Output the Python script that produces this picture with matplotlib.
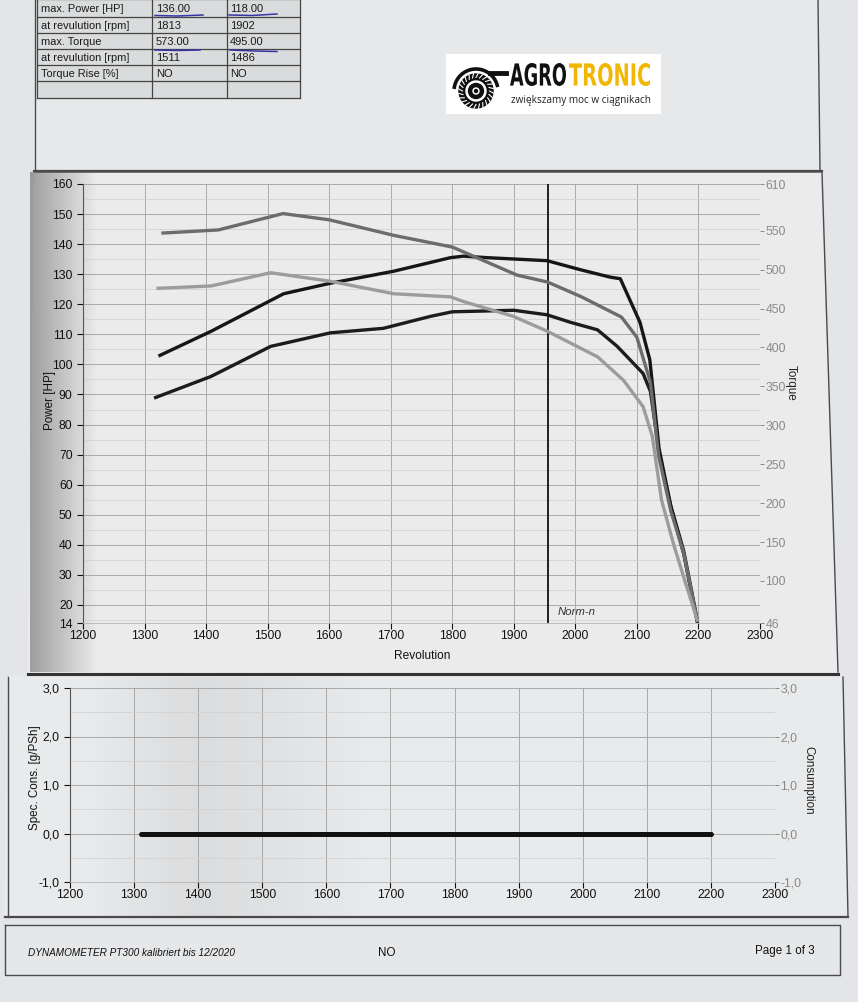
import matplotlib.pyplot as plt
import matplotlib.transforms as mtransforms
import numpy as np
from matplotlib.font_manager import FontProperties
from matplotlib.patches import Rectangle, Circle, PathPatch
from matplotlib.textpath import TextPath

plt.rcParams['font.family'] = ['Liberation Sans', 'DejaVu Sans']

W, H = 858, 1002

# summary table at the top of the printout
row_names = ["max. Power [HP]", "at revulution [rpm]", "max. Torque",
             "at revulution [rpm]", "Torque Rise [%]", ""]
tuned_vals = ["136.00", "1813", "573.00", "1511", "NO", ""]
stock_vals = ["118.00", "1902", "495.00", "1486", "NO", ""]

# curves (power in HP, torque in Nm)
rpm_pw_tuned = [1325, 1408, 1526, 1602, 1705, 1797, 1818, 1857, 1954, 2008,
                2057, 2073, 2105, 2121, 2136, 2155, 2176, 2198]
pw_tuned = [103, 111, 123.5, 127, 131, 135.5, 136, 135.5, 134.5, 131.5,
            129, 128.5, 114, 101.5, 72, 53, 38, 15]

rpm_pw_stock = [1318, 1408, 1505, 1602, 1688, 1765, 1800, 1900, 1954, 1992,
                2036, 2068, 2110, 2122, 2138, 2156, 2176, 2198]
pw_stock = [89, 96, 106, 110.5, 112, 116, 117.5, 118, 116.5, 114,
            111.5, 106, 97, 91, 68, 52, 37, 14.5]

rpm_tq_tuned = [1330, 1420, 1525, 1600, 1705, 1800, 1873, 1905, 1955, 2010,
                2075, 2100, 2122, 2135, 2155, 2176, 2198]
tq_tuned = [547, 551, 572, 564, 544, 529, 504, 493, 484, 465,
            439, 413, 355, 262, 190, 136, 49]

rpm_tq_stock = [1322, 1408, 1505, 1602, 1705, 1797, 1818, 1899, 1954, 2036,
                2078, 2110, 2125, 2140, 2160, 2178, 2198]
tq_stock = [476, 479, 496, 485, 469, 465, 459, 440, 421, 388,
            358, 324, 286, 204, 146, 100, 50]

norm_n = 1955
rpm_cons = [1310, 2200]
cons = [0.0, 0.0]

rpm_ticks = list(range(1200, 2301, 100))
power_ticks = [14, 20, 30, 40, 50, 60, 70, 80, 90, 100, 110, 120, 130, 140, 150, 160]
torque_ticks = [46, 100, 150, 200, 250, 300, 350, 400, 450, 500, 550, 610]
cons_ticks = [-1, 0, 1, 2, 3]
cons_labels = ["-1,0", "0,0", "1,0", "2,0", "3,0"]

fig = plt.figure(figsize=(W / 100, H / 100), dpi=100)
fig.patch.set_facecolor('#e3e5e8')

# background layer in pixel coordinates
bg = fig.add_axes([0, 0, 1, 1])
bg.set_xlim(0, W)
bg.set_ylim(H, 0)
bg.axis('off')


def px_axes(x0, y0, x1, y1):
    return fig.add_axes([x0 / W, 1 - y1 / H, (x1 - x0) / W, (y1 - y0) / H])


def fit_text(s, x0, y0, x1, y1, color):
    tp = TextPath((0, 0), s, size=10, prop=FontProperties(family='DejaVu Sans', weight='bold'))
    ext = tp.get_extents()
    tr = (mtransforms.Affine2D().translate(-ext.x0, -ext.y0)
          .scale((x1 - x0) / ext.width, -(y1 - y0) / ext.height).translate(x0, y1))
    bg.add_patch(PathPatch(tr.transform_path(tp), color=color, lw=0))


# panels
bg.fill([35, 820, 838, 28], [172, 172, 672, 672], color='#ebebec', zorder=0)
bg.fill([8, 843, 848, 5], [677, 677, 917, 917], color='#e9eaeb', zorder=0)
bg.fill([35, 818, 820, 35], [0, 0, 170, 170], color='#e7e8ea', zorder=0)
bg.fill([5, 840, 840, 5], [925, 925, 975, 975], color='#e6e7e9', zorder=0)

# shadow on the left of the upper chart, faint one in the lower chart
grad = np.zeros((10, 100, 4))
grad[..., 3] = np.linspace(0.33, 0.0, 100)[None, :]
bg.imshow(grad, extent=[30, 98, 672, 172], aspect='auto', zorder=0.5)
grad2 = np.zeros((10, 100, 4))
grad2[..., 3] = np.concatenate([np.linspace(0.0, 0.06, 40), np.linspace(0.06, 0.0, 60)])[None, :]
bg.imshow(grad2, extent=[80, 380, 917, 677], aspect='auto', zorder=0.5)
bg.set_xlim(0, W)
bg.set_ylim(H, 0)

edge = '#4a4a4a'
bg.plot([35, 35], [0, 170], color=edge, lw=1)
bg.plot([818, 820], [0, 170], color=edge, lw=1)
bg.plot([34, 822], [171, 171], color=edge, lw=1.6)
bg.plot([35, 822, 838], [172, 172, 672], color=edge, lw=1)
bg.plot([28, 838], [674, 674], color='#333', lw=2.2)
bg.plot([8, 8], [677, 917], color=edge, lw=1)
bg.plot([843, 848], [677, 917], color=edge, lw=1)
bg.plot([5, 848], [917, 917], color=edge, lw=1.6)
bg.plot([5, 840, 840, 5, 5], [925, 925, 975, 975, 925], color=edge, lw=1)

# table
col_x = [37, 152, 227, 300]
row_y = [-1, 17, 33, 49, 65, 81, 98]
bg.add_patch(Rectangle((37, -1), 263, 99, facecolor='#dadbdc', edgecolor='none'))
for x in col_x:
    bg.plot([x, x], [row_y[0], row_y[-1]], color='#444', lw=0.9)
for y in row_y:
    bg.plot([col_x[0], col_x[-1]], [y, y], color='#444', lw=0.9)
for i, (name, a, b) in enumerate(zip(row_names, tuned_vals, stock_vals)):
    yc = (row_y[i] + row_y[i + 1]) / 2 + 0.5
    bg.text(41, yc, name, fontsize=7.9, va='center', ha='left', color='#1a1a1a')
    bg.text(156, yc, a, fontsize=8.0, va='center', ha='left', color='#1a1a1a')
    bg.text(230, yc, b, fontsize=8.0, va='center', ha='left', color='#1a1a1a')
# pen marks under the max values
pen = '#3535a8'
bg.plot([155, 177, 203], [15.5, 16, 15], color=pen, lw=1.1)
bg.plot([229, 252, 277], [15, 15.5, 14], color=pen, lw=1.1)
bg.plot([155, 178, 200], [50, 50.5, 50], color=pen, lw=1.1)
bg.plot([230, 254, 277], [50, 51, 51.5], color=pen, lw=1.1)

# logo
bg.add_patch(Rectangle((446, 54), 215, 60, facecolor='white', edgecolor='none'))
cx, cy = 476, 91
bg.add_patch(Circle((cx, cy), 17, color='#111'))
for t in np.linspace(0, 2 * np.pi, 24, endpoint=False):
    bg.plot([cx + 13.5 * np.cos(t), cx + 17.5 * np.cos(t + 0.12)],
            [cy + 13.5 * np.sin(t), cy + 17.5 * np.sin(t + 0.12)], color='white', lw=0.8)
bg.add_patch(Circle((cx, cy), 10, color='white'))
bg.add_patch(Circle((cx, cy), 7.5, color='#111'))
bg.add_patch(Circle((cx, cy), 3, color='white'))
bg.add_patch(Circle((cx, cy), 1.5, color='#111'))
ang = np.linspace(np.radians(15), np.radians(170), 40)
bg.plot(cx + 22 * np.cos(ang), cy - 22 * np.sin(ang), color='#111', lw=2.6)
bg.plot([cx + 14, 506], [73, 73], color='#111', lw=3.5)
fit_text("AGRO", 510, 63, 566, 86, '#111111')
fit_text("TRONIC", 569, 63, 650, 86, '#f2b705')
bg.text(511, 100, "zwiększamy moc w ciągnikach", fontsize=7.2, color='#222',
        ha='left', va='center', family=['Open Sans', 'DejaVu Sans'])

# upper chart: power and torque
ax = px_axes(83, 184, 760, 623)
ax.patch.set_alpha(0)
ax.set_xlim(1200, 2300)
ax.set_ylim(14, 160)
ax.set_xticks(rpm_ticks)
ax.set_yticks(power_ticks)
ax.set_yticks(np.arange(15, 160, 5), minor=True)
ax.tick_params(axis='both', labelsize=8.8, colors='#111', length=4, width=0.8)
ax.tick_params(axis='y', which='minor', length=0)
ax.tick_params(axis='x', pad=1)
ax.grid(which='major', color='#a9a9a9', lw=0.7)
ax.grid(which='minor', axis='y', color='#d2d2d2', lw=0.6)
for s in ['top', 'right']:
    ax.spines[s].set_visible(False)
ax.spines['left'].set_color('#555')
ax.spines['bottom'].set_color('#b5b5b5')
ax.spines['bottom'].set_linewidth(0.6)

ax.plot(rpm_pw_tuned, pw_tuned, color='#161616', lw=2.4, solid_joinstyle='round', zorder=4)
ax.plot(rpm_pw_stock, pw_stock, color='#1c1c1c', lw=2.4, solid_joinstyle='round', zorder=4)
ax.axvline(norm_n, color='#111', lw=1.3, zorder=5)

ax2 = ax.twinx()
ax2.set_ylim(46, 610)
ax2.set_yticks(torque_ticks)
ax2.tick_params(axis='y', labelsize=8.8, colors='#8a8a8a', length=3, width=0.7, pad=1)
for s in ax2.spines.values():
    s.set_visible(False)
ax2.plot(rpm_tq_tuned, tq_tuned, color='#6c6c6c', lw=2.4, solid_joinstyle='round', zorder=3)
ax2.plot(rpm_tq_stock, tq_stock, color='#9c9c9c', lw=2.4, solid_joinstyle='round', zorder=3)

bg.text(50, 400, "Power [HP]", rotation=90, fontsize=8.4, ha='center', va='center', color='#111')
bg.text(422, 656, "Revolution", fontsize=8.6, ha='center', va='center', color='#111')
bg.text(791, 383, "Torque", rotation=270, fontsize=8.4, ha='center', va='center', color='#222')
bg.text(558, 612, "Norm-n", fontsize=8.2, style='italic', ha='left', va='center', color='#333')

# lower chart: specific consumption
axb = px_axes(70, 688, 775, 882)
axb.patch.set_alpha(0)
axb.set_xlim(1200, 2300)
axb.set_ylim(-1, 3)
axb.set_xticks(rpm_ticks)
axb.set_yticks(cons_ticks)
axb.set_yticklabels(cons_labels)
axb.set_yticks(np.arange(-1, 3.01, 0.5), minor=True)
axb.tick_params(axis='both', labelsize=8.8, colors='#111', length=4, width=0.8)
axb.tick_params(axis='y', which='minor', length=0)
axb.tick_params(axis='x', pad=1)
axb.grid(which='major', color='#a9a9a9', lw=0.7)
axb.grid(which='minor', axis='y', color='#d2d2d2', lw=0.6)
for s in ['top', 'right']:
    axb.spines[s].set_visible(False)
axb.spines['left'].set_color('#555')
axb.spines['bottom'].set_color('#b5b5b5')
axb.spines['bottom'].set_linewidth(0.6)
axb.plot(rpm_cons, cons, color='#111', lw=3.6, solid_capstyle='round', zorder=4)

axb2 = axb.twinx()
axb2.set_ylim(-1, 3)
axb2.set_yticks(cons_ticks)
axb2.set_yticklabels(cons_labels)
axb2.tick_params(axis='y', labelsize=8.8, colors='#8a8a8a', length=3, width=0.7, pad=1)
for s in axb2.spines.values():
    s.set_visible(False)

bg.text(35, 778, "Spec. Cons. [g/PSh]", rotation=90, fontsize=8.4, ha='center', va='center', color='#111')
bg.text(808, 780, "Consumption", rotation=270, fontsize=8.4, ha='center', va='center', color='#222')

# footer
bg.text(28, 953, "DYNAMOMETER PT300 kalibriert bis 12/2020", fontsize=7.2, style='italic',
        ha='left', va='center', color='#111')
bg.text(387, 953, "NO", fontsize=8.4, ha='center', va='center', color='#111')
bg.text(815, 951, "Page 1 of 3", fontsize=8.4, ha='right', va='center', color='#111')

fig.savefig("out.png", dpi=100, facecolor=fig.get_facecolor())
